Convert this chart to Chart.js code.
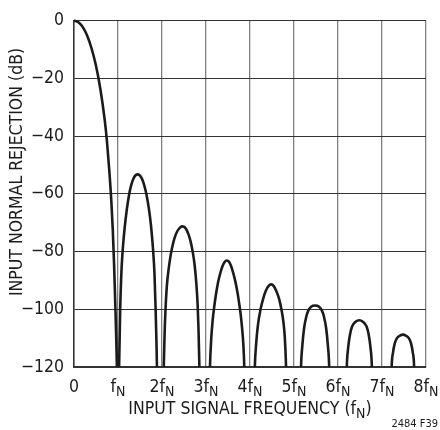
<!DOCTYPE html>
<html><head><meta charset="utf-8">
<script src="https://cdn.jsdelivr.net/npm/chart.js@4.4.1/dist/chart.umd.min.js"></script>
<style>html,body{margin:0;padding:0;background:#fff;}#wrap{width:440px;height:430px;position:relative;}</style>
</head><body><div id="wrap"><canvas id="c" width="440" height="430"></canvas></div>
<script>
// ---- data ----
const xTickMain = ['0', 'f', '2f', '3f', '4f', '5f', '6f', '7f', '8f'];
const xTickSub  = ['',  'N', 'N',  'N',  'N',  'N',  'N',  'N',  'N'];
const yTickValues = [0, -20, -40, -60, -80, -100, -120];
const xTitleMain = 'INPUT SIGNAL FREQUENCY (f';
const xTitleSub = 'N';
const xTitleEnd = ')';
const yTitle = 'INPUT NORMAL REJECTION (dB)';
const figNote = '2484 F39';

const lobe0F  = [0, 0.1, 0.2, 0.3, 0.4, 0.5, 0.6, 0.7, 0.75, 0.8, 0.85, 0.88, 0.91, 0.94, 0.96, 0.975, 0.99];
const lobe0Db = [0, -0.6, -2.3, -5.3, -9.7, -15.7, -23.8, -34.7, -42, -51.5, -63, -72, -84, -99, -110, -120, -135];
const lobe1F  = [1.01, 1.025, 1.05, 1.075, 1.1, 1.15, 1.2, 1.25, 1.3, 1.35, 1.4, 1.45, 1.5, 1.55, 1.6, 1.65, 1.7, 1.75, 1.8, 1.83, 1.855, 1.875, 1.885, 1.9];
const lobe1Db = [-135, -120, -100, -88, -81, -72, -65.5, -60.5, -57, -54.8, -53.6, -53.3, -53.7, -55, -57.3, -60.5, -65, -71, -80, -88, -100, -112, -120, -135];
const lobe2F  = [2.02, 2.04, 2.06, 2.08, 2.11, 2.15, 2.2, 2.25, 2.3, 2.35, 2.4, 2.45, 2.5, 2.55, 2.6, 2.65, 2.7, 2.74, 2.78, 2.81, 2.83, 2.85, 2.87];
const lobe2Db = [-135, -120, -108, -100, -92, -86.2, -81, -77.3, -74.7, -72.9, -71.9, -71.3, -71.4, -72.3, -74, -76.5, -80.3, -84.5, -91, -98.5, -107, -120, -135];
const lobe3F  = [3.07, 3.09, 3.12, 3.15, 3.18, 3.22, 3.27, 3.32, 3.37, 3.42, 3.47, 3.52, 3.57, 3.62, 3.67, 3.72, 3.76, 3.79, 3.82, 3.85, 3.87, 3.89];
const lobe3Db = [-135, -120, -110, -104, -100, -95.5, -91, -87.8, -85.3, -83.7, -83.1, -83.5, -85, -87.5, -90.6, -94.6, -98.6, -102, -106.5, -112.5, -120, -135];
const lobe4F  = [4.09, 4.11, 4.14, 4.18, 4.24, 4.3, 4.36, 4.42, 4.48, 4.54, 4.6, 4.66, 4.72, 4.76, 4.79, 4.82, 4.84];
const lobe4Db = [-135, -120, -112, -105.5, -100, -96.3, -93.6, -92, -91.4, -92, -93.8, -96.3, -100.5, -104.5, -109.5, -120, -135];
const lobe5F  = [5.14, 5.16, 5.19, 5.23, 5.28, 5.33, 5.39, 5.48, 5.57, 5.63, 5.68, 5.73, 5.77, 5.8, 5.82];
const lobe5Db = [-135, -120, -112.5, -106.5, -102.5, -100.3, -99.1, -98.7, -99.1, -100.3, -102.5, -106.5, -112.5, -120, -135];
const lobe6F  = [6.18, 6.2, 6.23, 6.27, 6.32, 6.4, 6.485, 6.565, 6.65, 6.7, 6.74, 6.77, 6.79];
const lobe6Db = [-135, -120, -113.5, -109, -106, -104.3, -103.8, -104.3, -106, -109, -113.5, -120, -135];
const lobe7F  = [7.2, 7.22, 7.25, 7.29, 7.34, 7.41, 7.475, 7.54, 7.61, 7.66, 7.7, 7.73, 7.75];
const lobe7Db = [-135, -120, -115, -111.8, -110, -109.1, -108.8, -109.1, -110, -111.8, -115, -120, -135];

const lobes = [[lobe0F, lobe0Db], [lobe1F, lobe1Db], [lobe2F, lobe2Db], [lobe3F, lobe3Db],
               [lobe4F, lobe4Db], [lobe5F, lobe5Db], [lobe6F, lobe6Db], [lobe7F, lobe7Db]];

const FONT = "'Liberation Sans Narrow', 'DejaVu Sans Condensed', 'Arial Narrow', sans-serif";
const INK = '#1b1b1b';

// pick a font size so the axis title has the reference width
const mctx = document.createElement('canvas').getContext('2d');
function tw(t, s) { mctx.font = s + 'px ' + FONT; return mctx.measureText(t).width; }
const baseW = tw(xTitleMain, 16) + tw(xTitleSub, 13) + tw(xTitleEnd, 16);
const FS = Math.round(16 * 245 / baseW * 2) / 2;
const SUBFS = Math.round(FS * 0.8);

const datasets = lobes.map(([f, d]) => ({
  data: f.map((x, i) => ({ x: x, y: d[i] })),
  showLine: true,
  borderColor: INK,
  borderWidth: 2.6,
  pointRadius: 0,
  cubicInterpolationMode: 'monotone',
  clip: { left: 3, top: 3, right: 3, bottom: 0 }
}));

const textPlugin = {
  id: 'texts',
  afterDraw(chart) {
    const ctx = chart.ctx;
    const xs = chart.scales.x;
    const ca = chart.chartArea;
    ctx.save();
    ctx.fillStyle = INK;
    ctx.textBaseline = 'alphabetic';
    ctx.textAlign = 'left';
    const mainFont = FS + 'px ' + FONT;
    const subFont = SUBFS + 'px ' + FONT;
    for (let i = 0; i < xTickMain.length; i++) {
      const px = xs.getPixelForValue(i);
      ctx.font = mainFont;
      const w1 = ctx.measureText(xTickMain[i]).width;
      ctx.font = subFont;
      const w2 = ctx.measureText(xTickSub[i]).width;
      const sx = px - (w1 + w2) / 2;
      ctx.font = mainFont;
      ctx.fillText(xTickMain[i], sx, ca.bottom + 25);
      ctx.font = subFont;
      ctx.fillText(xTickSub[i], sx + w1, ca.bottom + 29);
    }
    ctx.font = mainFont;
    const a = ctx.measureText(xTitleMain).width;
    const c = ctx.measureText(xTitleEnd).width;
    ctx.font = subFont;
    const b = ctx.measureText(xTitleSub).width;
    const cx = (ca.left + ca.right) / 2;
    const tx = cx - (a + b + c) / 2;
    const ty = ca.bottom + 47;
    ctx.font = mainFont;
    ctx.fillText(xTitleMain, tx, ty);
    ctx.font = subFont;
    ctx.fillText(xTitleSub, tx + a, ty + 4);
    ctx.font = mainFont;
    ctx.fillText(xTitleEnd, tx + a + b, ty);
    ctx.save();
    ctx.translate(22, 172);
    ctx.rotate(-Math.PI / 2);
    ctx.textAlign = 'center';
    ctx.font = mainFont;
    ctx.fillText(yTitle, 0, 0);
    ctx.restore();
    ctx.font = '11px ' + FONT;
    ctx.textAlign = 'right';
    ctx.fillText(figNote, 438, 427);
    ctx.restore();
  }
};

new Chart(document.getElementById('c'), {
  type: 'scatter',
  data: { datasets },
  options: {
    responsive: false,
    animation: false,
    devicePixelRatio: 1,
    layout: { padding: { left: 0, top: 15, right: 14, bottom: 0 } },
    plugins: { legend: { display: false }, tooltip: { enabled: false } },
    scales: {
      x: {
        type: 'linear', min: 0, max: 8,
        afterFit(s) { s.height = 63; },
        ticks: { display: false, stepSize: 1 },
        grid: { color: '#808080', lineWidth: 1.3, drawTicks: false },
        border: { color: '#333', width: 1.5 }
      },
      y: {
        type: 'linear', min: -120, max: 0,
        afterFit(s) { s.width = 74; },
        afterBuildTicks(s) { s.ticks = yTickValues.map(v => ({ value: v })); },
        ticks: {
          padding: 10,
          color: INK,
          font: { family: FONT, size: FS },
          callback: v => (v === 0 ? '0' : '\u2212' + Math.abs(v))
        },
        grid: { color: '#333', lineWidth: 1, drawTicks: false },
        border: { color: '#333', width: 1.5 }
      }
    }
  },
  plugins: [textPlugin]
});
</script></body></html>
